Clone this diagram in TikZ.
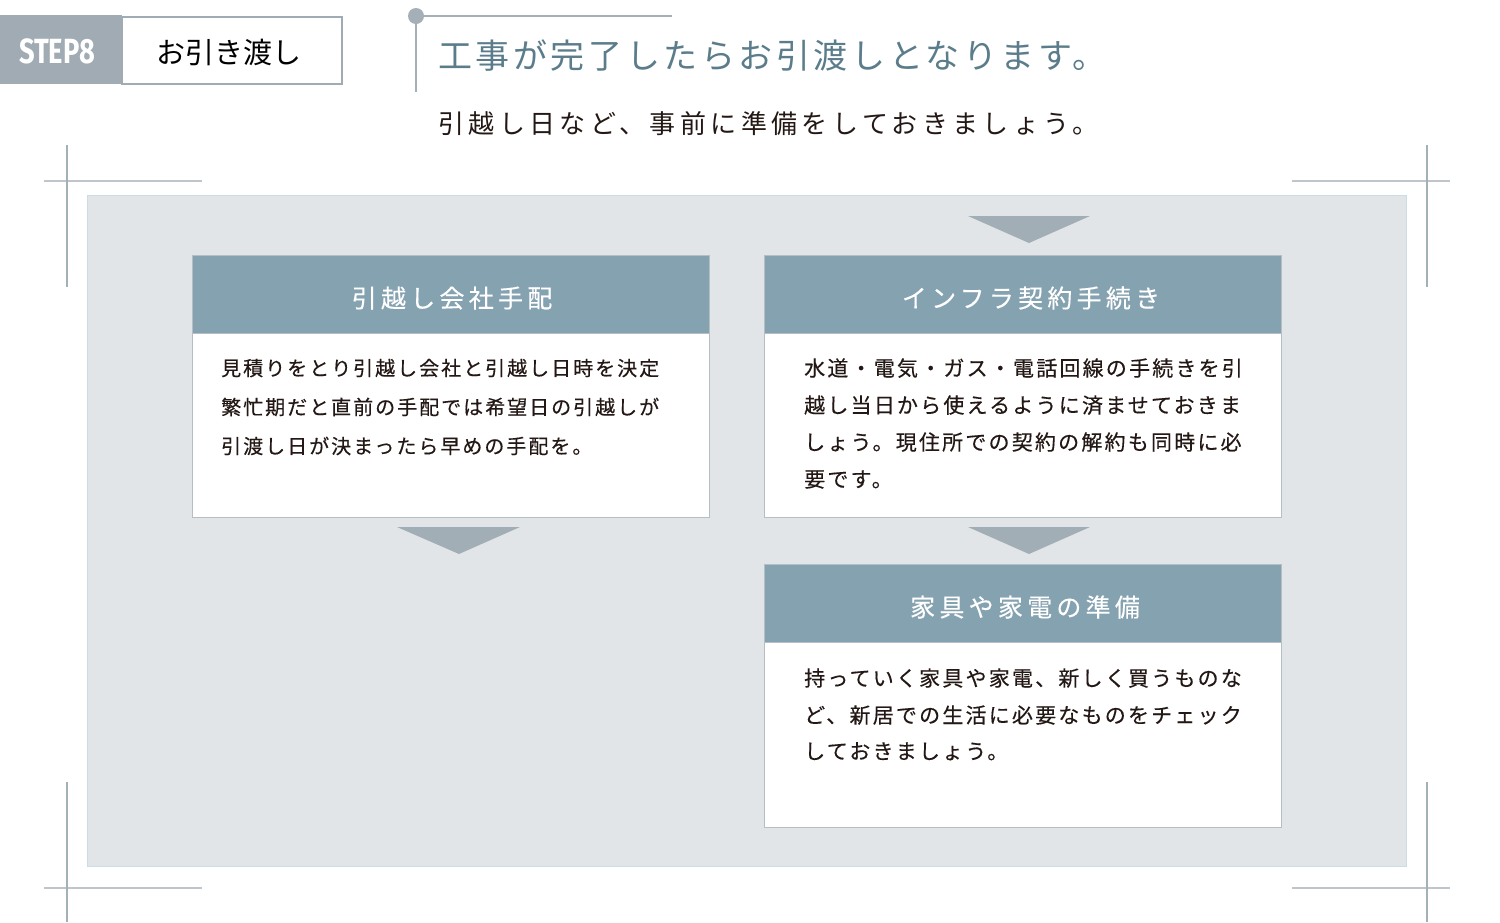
\documentclass[tikz,border=0pt]{standalone}
\usepackage{fontspec}
\setmainfont{Noto Sans CJK JP}
\newfontfamily\jpbodyL[LetterSpace=10,FakeBold=0.3]{Noto Sans CJK JP}
\newfontfamily\jpbodyR[LetterSpace=10.5,FakeBold=0.3]{Noto Sans CJK JP}
\newfontfamily\jphead[LetterSpace=17,FakeBold=0.3]{Noto Sans CJK JP}
\newfontfamily\jptitle[LetterSpace=10.5]{Noto Sans CJK JP}
\newfontfamily\jpsub[LetterSpace=17]{Noto Sans CJK JP}
\newfontfamily\jplabel{Noto Sans CJK JP}
\newfontfamily\stepfont[FakeStretch=0.78]{Fira Sans}
\definecolor{stepgray}{HTML}{A0ABB3}
\definecolor{decogray}{HTML}{A5AFB7}
\definecolor{cornerh}{HTML}{BFC5CA}
\definecolor{cornerv}{HTML}{A3B0B7}
\definecolor{panelfill}{HTML}{E1E5E8}
\definecolor{panelline}{HTML}{C9DCEA}
\definecolor{hdrfill}{HTML}{84A2AF}
\definecolor{boxline}{HTML}{B5BEC4}
\definecolor{trifill}{HTML}{A2AEB5}
\definecolor{titlecol}{HTML}{5B7C8A}
\definecolor{textcol}{HTML}{231815}
\tikzset{
  hdrbox/.style={rectangle, fill=hdrfill, draw=boxline, line width=1pt, minimum width=517pt, minimum height=78pt, inner sep=0pt, anchor=north west},
  bodybox/.style={rectangle, fill=white, draw=boxline, line width=1.2pt, minimum width=517pt, inner sep=0pt, anchor=north west},
  hdrtext/.style={anchor=base, text=white, inner sep=0pt, font=\fontsize{25}{28}\jphead},
  lineL/.style={anchor=base west, text=textcol, inner sep=0pt, font=\fontsize{20}{24}\jpbodyL},
  lineR/.style={anchor=base west, text=textcol, inner sep=0pt, font=\fontsize{21}{24}\jpbodyR},
  chevron/.style={fill=trifill, draw=none},
  cornerH/.style={draw=cornerh, line width=1.5pt},
  cornerV/.style={draw=cornerv, line width=1.5pt},
}
\begin{document}
\begin{tikzpicture}[x=1pt, y=-1pt]
\useasboundingbox (0,0) rectangle (1500,922);
\fill[white] (0,0) rectangle (1500,922);

% corner marks
\draw[cornerH] (44,181) -- (202,181);
\draw[cornerV] (67,145) -- (67,287);
\draw[cornerH] (1292,181) -- (1450,181);
\draw[cornerV] (1427,145) -- (1427,287);
\draw[cornerH] (44,888) -- (202,888);
\draw[cornerV] (67,782) -- (67,922);
\draw[cornerH] (1292,888) -- (1450,888);
\draw[cornerV] (1427,782) -- (1427,922);

% panel
\node[rectangle, fill=panelfill, draw=panelline, line width=1.2pt, minimum width=1319pt, minimum height=671pt, inner sep=0pt, anchor=north west] (panel) at (87,195) {};

% step label
\node[rectangle, fill=white, draw=stepgray, line width=1.5pt, minimum width=220pt, minimum height=67pt, inner sep=0pt, anchor=north west] (stepbox) at (121,16) {};
\node[rectangle, fill=stepgray, minimum width=122pt, minimum height=68.5pt, inner sep=0pt, anchor=north west] (steptag) at (0,15.25) {};
\node[anchor=base, text=white, inner sep=0pt, font=\fontsize{35}{38}\stepfont\bfseries] (steptxt) at (57,63.5) {STEP8};
\node[anchor=base, text=black, inner sep=0pt, font=\fontsize{29}{32}\jplabel] (steplbl) at (229,63) {お引き渡し};

% title decoration
\coordinate (dtop) at (416,16);
\coordinate (dbot) at (416,92);
\coordinate (dend) at (672,16);
\draw[decogray, line width=1.5pt] (dtop) -- (dbot);
\draw[decogray, line width=1.5pt] (dtop) -- (dend);
\fill[decogray] (dtop) circle (8);

\node[anchor=base west, text=titlecol, inner sep=0pt, font=\fontsize{34}{40}\jptitle] (title) at (438,68) {工事が完了したらお引渡しとなります。};
\node[anchor=base west, text=textcol, inner sep=0pt, font=\fontsize{26}{30}\jpsub] (subtitle) at (438,133) {引越し日など、事前に準備をしておきましょう。};

% box 1
\node[bodybox, minimum height=262pt] (b1) at (192,255) {};
\node[hdrbox] (h1) at (192,255) {};
\node[hdrtext] (t1) at (452,307.5) {引越し会社手配};
\node[lineL] (b1l1) at (221,375.6) {見積りをとり引越し会社と引越し日時を決定};
\node[lineL] (b1l2) at (221,414.6) {繁忙期だと直前の手配では希望日の引越しが};
\node[lineL] (b1l3) at (221,453.6) {引渡し日が決まったら早めの手配を。};

% box 2
\node[bodybox, minimum height=262pt] (b2) at (764,255) {};
\node[hdrbox] (h2) at (764,255) {};
\node[hdrtext] (t2) at (1031,307.5) {インフラ契約手続き};
\node[lineR] (b2l1) at (804,376) {水道・電気・ガス・電話回線の手続きを引};
\node[lineR] (b2l2) at (804,413) {越し当日から使えるように済ませておきま};
\node[lineR] (b2l3) at (804,450) {しょう。現住所での契約の解約も同時に必};
\node[lineR] (b2l4) at (804,487) {要です。};

% box 3
\node[bodybox, minimum height=263pt] (b3) at (764,564) {};
\node[hdrbox] (h3) at (764,564) {};
\node[hdrtext] (t3) at (1025,616.5) {家具や家電の準備};
\node[lineR] (b3l1) at (804,686) {持っていく家具や家電、新しく買うものな};
\node[lineR] (b3l2) at (804,723) {ど、新居での生活に必要なものをチェック};
\node[lineR] (b3l3) at (804,759) {しておきましょう。};

% chevrons
\fill[chevron] (968,216) -- (1090,216) -- (1029,243) -- cycle;
\fill[chevron] (397,527) -- (520,527) -- (459,554) -- cycle;
\fill[chevron] (968,527) -- (1090,527) -- (1029,554) -- cycle;
\end{tikzpicture}
\end{document}
